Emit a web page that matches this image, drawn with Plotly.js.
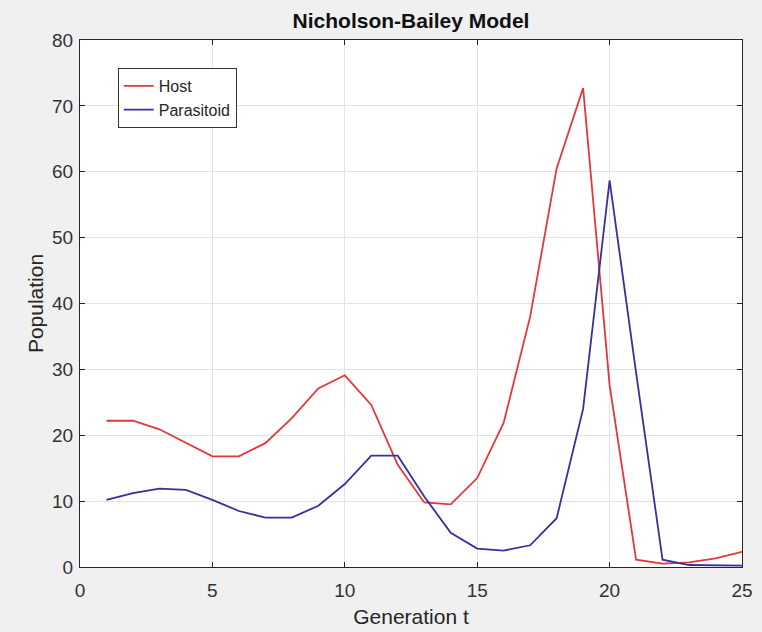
<!DOCTYPE html>
<html>
<head>
<meta charset="utf-8">
<script src="https://cdn.plot.ly/plotly-3.0.1.min.js"></script>
<style>
  html, body { margin: 0; padding: 0; background: #f0f0f0; }
  #chart { width: 762px; height: 632px; }
</style>
</head>
<body>
<div id="chart"></div>
<script>
// Nicholson-Bailey host-parasitoid dynamics, generations 1..25
const generations = [1, 2, 3, 4, 5, 6, 7, 8, 9, 10, 11, 12, 13, 14, 15, 16, 17, 18, 19, 20, 21, 22, 23, 24, 25];
const hostPop = [22.2, 22.2, 20.9, 18.8, 16.8, 16.8, 18.8, 22.6, 27.1, 29.1, 24.6, 15.5, 9.8, 9.5, 13.5, 21.9, 38.0, 60.5, 72.7, 27.6, 1.1, 0.5, 0.7, 1.3, 2.3];
const parasitoidPop = [10.2, 11.2, 11.9, 11.7, 10.2, 8.5, 7.5, 7.5, 9.3, 12.6, 16.9, 16.9, 10.7, 5.2, 2.8, 2.5, 3.3, 7.4, 24.0, 58.7, 29.5, 1.1, 0.3, 0.2, 0.2];
const xTicks = [0, 5, 10, 15, 20, 25];
const yTicks = [0, 10, 20, 30, 40, 50, 60, 70, 80];

const textColor = '#262626';
const family = '"Liberation Sans", Arial, sans-serif';
const tickFont = { family: family, size: 19, color: '#333333' };
const labelFont = { family: family, size: 21, color: textColor };

const traces = [
  {
    x: generations, y: hostPop, name: 'Host', type: 'scatter', mode: 'lines',
    line: { color: '#e3383a', width: 1.8 }
  },
  {
    x: generations, y: parasitoidPop, name: 'Parasitoid', type: 'scatter', mode: 'lines',
    line: { color: '#38309a', width: 1.8 }
  }
];

const axisCommon = {
  showgrid: true, gridcolor: '#e3e3e3', gridwidth: 1,
  zeroline: false,
  showline: true, linecolor: '#262626', linewidth: 1, mirror: 'ticks',
  ticks: 'inside', ticklen: 5, tickcolor: '#262626', tickwidth: 1,
  tickfont: tickFont
};

const layout = {
  width: 762, height: 632,
  paper_bgcolor: '#f0f0f0', plot_bgcolor: '#ffffff',
  margin: { l: 80, r: 20, t: 40, b: 65 },
  font: tickFont,
  title: {
    text: '<b>Nicholson-Bailey Model</b>',
    font: { family: family, size: 21, color: '#111111' },
    x: 0.5, xref: 'paper', xanchor: 'center',
    y: 0.968, yref: 'container', yanchor: 'middle'
  },
  xaxis: Object.assign({}, axisCommon, {
    range: [0, 25], tickvals: xTicks, ticktext: xTicks.map(String),
    ticklabelstandoff: 6,
    title: { text: 'Generation t', font: labelFont, standoff: 9 }
  }),
  yaxis: Object.assign({}, axisCommon, {
    range: [0, 80], tickvals: yTicks, ticktext: yTicks.map(String),
    ticklabelstandoff: 2,
    title: { text: 'Population', font: labelFont, standoff: 2 }
  }),
  legend: {
    x: 0.057, y: 0.947, xanchor: 'left', yanchor: 'top',
    bgcolor: '#ffffff', bordercolor: '#333333', borderwidth: 1,
    font: { family: family, size: 16, color: textColor },
    tracegroupgap: 0
  },
  showlegend: true
};

Plotly.newPlot('chart', traces, layout, { displayModeBar: false, staticPlot: true });
</script>
</body>
</html>
